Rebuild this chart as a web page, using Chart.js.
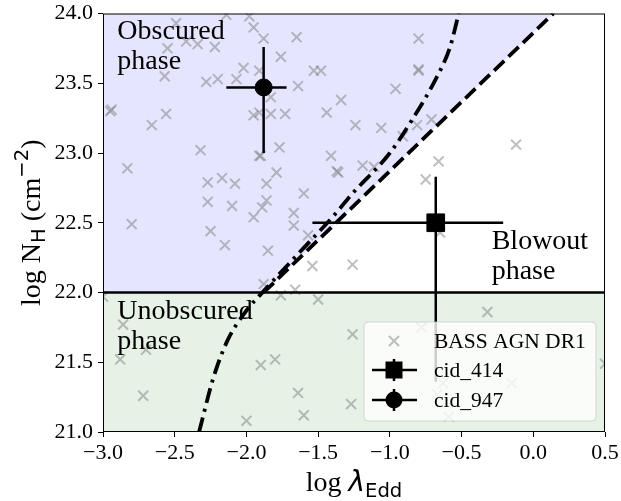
<!DOCTYPE html>
<html>
<head>
<meta charset="utf-8">
<script src="https://cdn.jsdelivr.net/npm/chart.js@4.4.1/dist/chart.umd.min.js"></script>
<style>
  html, body { margin: 0; padding: 0; background: #fff; }
</style>
</head>
<body>
<canvas id="plot" width="621" height="501"></canvas>
<script>
// muestra BASS AGN DR1 (log lambda_Edd, log N_H)
const bassX = [-2.49, -2.55, -2.42, -2.34, -2.22, -2.57, -2.28, -2.20, -2.94, -2.95, -2.66, -2.56, -2.32, -2.83,
  -2.27, -2.17, -2.08, -2.27, -2.10, -2.14, -1.98, -1.95, -1.88, -1.65, -1.76, -2.02, -2.07, -1.91, -1.53,
  -1.48, -1.64, -1.34, -1.44, -1.24, -1.83, -1.95, -1.91, -1.83, -1.73, -1.77, -1.91, -1.90, -1.41, -1.37,
  -1.36, -1.79, -1.86, -1.60, -1.86, -1.89, -1.67, -1.95, -0.80, -0.80, -0.80, -0.96, -1.06, -0.91, -0.81,
  -0.71, -0.12, -0.66, -0.75, -1.19, -1.11, -2.80, -1.67, -2.25, -2.15, -1.85, -1.57, -1.54, -1.26, -1.88,
  -1.76, -1.66, -1.50, -3.00, -2.86, -2.70, -2.88, -1.90, -1.80, -1.26, -2.72, -1.64, -1.60, -2.00, -1.27,
  -0.65, -0.32, -0.78, -0.63, -0.15, -0.67, -0.59, 0.50];
const bassY = [23.93, 23.75, 23.80, 23.78, 23.76, 23.55, 23.51, 23.53, 23.31, 23.30, 23.20, 23.28, 23.02, 22.89,
  22.79, 22.82, 22.78, 22.65, 22.62, 23.99, 23.98, 23.90, 23.82, 23.83, 23.69, 23.61, 23.53, 23.59, 23.59,
  23.59, 23.48, 23.38, 23.29, 23.20, 23.40, 23.27, 23.29, 23.28, 23.28, 23.04, 22.98, 22.98, 22.98, 22.87,
  22.86, 22.86, 22.78, 22.71, 22.66, 22.61, 22.57, 22.54, 23.82, 23.59, 23.60, 23.46, 23.18, 23.12, 23.20,
  23.24, 23.06, 22.94, 22.81, 22.91, 22.90, 22.49, 22.48, 22.44, 22.34, 22.30, 22.41, 22.19, 22.20, 22.06,
  21.98, 22.02, 21.95, 21.97, 21.77, 21.59, 21.52, 21.48, 21.52, 21.70, 21.26, 21.28, 21.12, 21.08, 21.20,
  22.43, 21.86, 21.75, 21.35, 21.35, 21.27, 21.11, 21.49];

// fuentes individuales: centro, error x (menos, mas), error y (menos, mas)
const cid414 = [-0.68, 22.50];
const cid414Xerr = [0.86, 0.47];
const cid414Yerr = [1.14, 0.33];
const cid947 = [-1.88, 23.47];
const cid947Xerr = [0.26, 0.16];
const cid947Yerr = [0.47, 0.29];

// curva punto-raya
const curveX = [-2.33, -2.23, -2.13, -2.00, -1.88, -1.60, -1.40, -1.26, -1.00, -0.85, -0.68, -0.58, -0.52];
const curveY = [21.00, 21.39, 21.66, 21.87, 22.01, 22.32, 22.54, 22.71, 23.00, 23.23, 23.53, 23.76, 24.00];
// limite de Eddington efectivo (linea a trazos)
const limitX = [-1.88, 0.14];
const limitY = [22.00, 24.00];
// limite de oscurecimiento
const nhCut = 22.0;

// etiquetas de ejes
const xTicks = [-3.0, -2.5, -2.0, -1.5, -1.0, -0.5, 0.0, 0.5];
const yTicks = [21.0, 21.5, 22.0, 22.5, 23.0, 23.5, 24.0];

// textos de las regiones: [texto, x, y de la primera linea base]
const regionLabels = [
  [['Obscured', 'phase'], -2.90, 23.82],
  [['Unobscured', 'phase'], -2.90, 21.81],
  [['Blowout', 'phase'], -0.29, 22.31]
];

const pts = (xs, ys) => xs.map((x, i) => ({x: x, y: ys[i]}));
const hBar = (c, e) => [{x: c[0] - e[0], y: c[1]}, {x: c[0] + e[1], y: c[1]}];
const vBar = (c, e) => [{x: c[0], y: c[1] - e[0]}, {x: c[0], y: c[1] + e[1]}];

const xMin = xTicks[0], xMax = xTicks[xTicks.length - 1];
const yMin = yTicks[0], yMax = yTicks[yTicks.length - 1];

const serif = '"Liberation Serif", "Times New Roman", serif';
const sans = '"DejaVu Sans", sans-serif';
const crossColor = 'rgba(128,128,128,0.5)';

// dibuja un texto con trozos de distinta fuente, centrado en x
let drawRuns = (ctx, runs, cx, y) => {
  let total = 0;
  runs.forEach(r => { ctx.font = r.font; total += ctx.measureText(r.text).width; });
  let x = cx - total / 2;
  ctx.textAlign = 'left';
  ctx.textBaseline = 'alphabetic';
  runs.forEach(r => {
    ctx.font = r.font;
    ctx.fillText(r.text, x, y + (r.dy || 0));
    x += ctx.measureText(r.text).width;
  });
};

const decor = {
  id: 'decor',
  afterDatasetsDraw(chart) {
    const ctx = chart.ctx;
    const a = chart.chartArea;
    const sx = chart.scales.x, sy = chart.scales.y;
    ctx.save();

    // marco
    ctx.strokeStyle = '#000';
    ctx.lineWidth = 1;
    ctx.strokeRect(a.left + 0.5, a.top + 0.5, a.right - a.left - 1, a.bottom - a.top - 1);

    // textos de regiones
    ctx.fillStyle = '#000';
    ctx.font = '28px ' + serif;
    ctx.textAlign = 'left';
    ctx.textBaseline = 'alphabetic';
    regionLabels.forEach(l => {
      const x = sx.getPixelForValue(l[1]);
      const y = sy.getPixelForValue(l[2]);
      l[0].forEach((t, i) => ctx.fillText(t, x, y + i * 30));
    });

    // leyenda
    const lw = 232, lh = 99;
    const lx = a.right - 9 - lw, ly = a.bottom - 11 - lh;
    ctx.beginPath();
    ctx.roundRect(lx, ly, lw, lh, 4);
    ctx.fillStyle = 'rgba(255,255,255,0.8)';
    ctx.fill();
    ctx.strokeStyle = 'rgba(204,204,204,0.8)';
    ctx.lineWidth = 1;
    ctx.stroke();

    const hx = lx + 30, tx = lx + 70;
    const rows = [ly + 19, ly + 48, ly + 78];
    const ds = chart.data.datasets;
    // cruz
    ctx.strokeStyle = crossColor;
    ctx.lineWidth = 2;
    ctx.beginPath();
    ctx.moveTo(hx - 5, rows[0] - 5); ctx.lineTo(hx + 5, rows[0] + 5);
    ctx.moveTo(hx + 5, rows[0] - 5); ctx.lineTo(hx - 5, rows[0] + 5);
    ctx.stroke();
    // barras de error
    ctx.strokeStyle = '#000';
    ctx.fillStyle = '#000';
    ctx.lineWidth = 2.5;
    [rows[1], rows[2]].forEach(ry => {
      ctx.beginPath();
      ctx.moveTo(hx - 22, ry); ctx.lineTo(hx + 23, ry);
      ctx.moveTo(hx, ry - 11); ctx.lineTo(hx, ry + 11);
      ctx.stroke();
    });
    ctx.fillRect(hx - 8.5, rows[1] - 8.5, 17, 17);
    ctx.beginPath();
    ctx.arc(hx, rows[2], 8.5, 0, Math.PI * 2);
    ctx.fill();

    ctx.font = '21.5px ' + serif;
    ctx.textBaseline = 'middle';
    ctx.fillText(ds[0].label, tx, rows[0] + 1);
    ctx.fillText(ds[1].label, tx, rows[1] + 1);
    ctx.fillText(ds[2].label, tx, rows[2] + 1);

    // titulos de ejes
    ctx.fillStyle = '#000';
    drawRuns(ctx, [
      {text: 'log ', font: '28px ' + serif},
      {text: '\u03bb', font: 'italic 28px ' + sans},
      {text: 'Edd', font: '19.6px ' + sans, dy: 6}
    ], (a.left + a.right) / 2, 491);

    ctx.translate(40, (a.top + a.bottom) / 2);
    ctx.rotate(-Math.PI / 2);
    drawRuns(ctx, [
      {text: 'log N', font: '28px ' + serif},
      {text: 'H', font: '19.6px ' + sans, dy: 5},
      {text: ' (cm', font: '28px ' + serif},
      {text: '\u22122', font: '19.6px ' + sans, dy: -12},
      {text: ')', font: '28px ' + serif}
    ], 0, 0);
    ctx.restore();
  }
};

const fmt = v => (v < 0 ? '\u2212' : '') + Math.abs(v).toFixed(1);

const config = {
  type: 'line',
  data: {
    datasets: [
      {
        label: 'BASS AGN DR1',
        data: pts(bassX, bassY),
        showLine: false,
        pointStyle: 'crossRot',
        pointRadius: 7,
        borderColor: crossColor,
        pointBorderWidth: 2,
        order: 5
      },
      {
        label: 'cid_414',
        data: [{x: cid414[0], y: cid414[1]}],
        showLine: false,
        pointStyle: 'rect',
        pointRadius: 12.5,
        pointBackgroundColor: '#000',
        pointBorderColor: '#000',
        order: 0
      },
      {
        label: 'cid_947',
        data: [{x: cid947[0], y: cid947[1]}],
        showLine: false,
        pointStyle: 'circle',
        pointRadius: 8.5,
        pointBackgroundColor: '#000',
        pointBorderColor: '#000',
        order: 0
      },
      {data: hBar(cid414, cid414Xerr), borderColor: '#000', borderWidth: 2.5, pointRadius: 0, order: 1},
      {data: vBar(cid414, cid414Yerr), borderColor: '#000', borderWidth: 2.5, pointRadius: 0, order: 1},
      {data: hBar(cid947, cid947Xerr), borderColor: '#000', borderWidth: 2.5, pointRadius: 0, order: 1},
      {data: vBar(cid947, cid947Yerr), borderColor: '#000', borderWidth: 2.5, pointRadius: 0, order: 1},
      {
        data: pts(curveX, curveY),
        borderColor: '#000', borderWidth: 3.8, borderDash: [15, 6, 3, 6],
        cubicInterpolationMode: 'monotone', pointRadius: 0, order: 2
      },
      {
        data: pts(limitX, limitY),
        borderColor: '#000', borderWidth: 3.8, borderDash: [14, 6],
        pointRadius: 0, order: 2
      },
      {
        // region oscurecida (azul)
        data: [{x: xMin, y: nhCut}].concat(pts(limitX, limitY)),
        borderWidth: 0, pointRadius: 0,
        fill: 'end', backgroundColor: 'rgba(0,0,255,0.1)', order: 6
      },
      {
        // region no oscurecida (verde) y linea log NH = 22
        data: [{x: xMin, y: nhCut}, {x: xMax, y: nhCut}],
        borderColor: '#000', borderWidth: 2.5, pointRadius: 0,
        fill: 'start', backgroundColor: 'rgba(0,128,0,0.1)', order: 3
      }
    ]
  },
  options: {
    responsive: false,
    animation: false,
    events: [],
    layout: {padding: {top: 13, right: 16, left: 0, bottom: 0}},
    plugins: {
      legend: {display: false},
      tooltip: {enabled: false},
      filler: {drawTime: 'beforeDatasetsDraw'}
    },
    scales: {
      x: {
        type: 'linear', min: xMin, max: xMax,
        afterBuildTicks: s => { s.ticks = xTicks.map(v => ({value: v})); },
        afterFit: s => { s.height = 69; s.paddingLeft = 0; s.paddingRight = 0; },
        border: {display: false},
        grid: {drawOnChartArea: false, drawTicks: true, tickLength: 5, color: '#000'},
        ticks: {color: '#000', font: {family: serif, size: 22}, padding: 3, maxRotation: 0, autoSkip: false, callback: fmt}
      },
      y: {
        type: 'linear', min: yMin, max: yMax,
        afterBuildTicks: s => { s.ticks = yTicks.map(v => ({value: v})); },
        afterFit: s => { s.width = 103; s.paddingTop = 0; s.paddingBottom = 0; },
        border: {display: false},
        grid: {drawOnChartArea: false, drawTicks: true, tickLength: 5, color: '#000'},
        ticks: {color: '#000', font: {family: serif, size: 22}, padding: 5, autoSkip: false, callback: fmt}
      }
    }
  },
  plugins: [decor]
};

let plotRef = document.getElementById('plot');
let chart1 = new Chart(plotRef, config);
</script>
</body>
</html>
